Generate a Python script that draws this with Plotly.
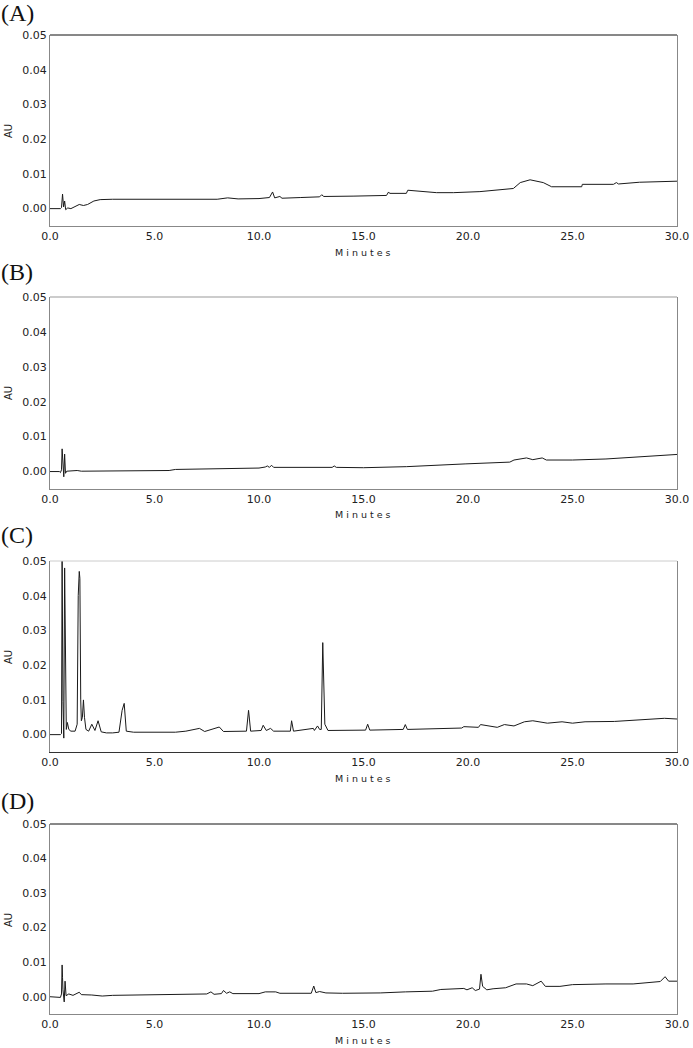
import plotly.graph_objects as go

# ---- data (minutes, AU) ----
t_A = [0, 0.5, 0.55, 0.6, 0.65, 0.7, 0.75, 0.85, 1.0, 1.3, 1.4, 1.6, 1.8, 2.1, 2.4, 3.0, 5.0, 8.0, 8.5, 9.0,
       10.0, 10.5, 10.65, 10.75, 11.0, 11.1, 12.0, 12.9, 13.0, 13.1, 14.5, 16.1, 16.2, 16.25, 17.05, 17.12,
       18.5, 19.3, 20.57, 22.17, 22.5, 22.97, 23.6, 24.0, 25.44, 25.47, 26.96, 27.1, 27.2, 28.2, 30.0]
au_A = [0, 0, 0.0003, 0.0042, 0.0005, 0.0022, -0.0003, 0.0002, 0.0, 0.0008, 0.0012, 0.0009, 0.0012, 0.0022,
        0.0026, 0.0027, 0.0027, 0.0027, 0.0031, 0.0028, 0.0029, 0.0032, 0.0048, 0.0031, 0.0035, 0.003, 0.0032,
        0.0034, 0.004, 0.0035, 0.0036, 0.0038, 0.0048, 0.0044, 0.0044, 0.0053, 0.0046, 0.0046, 0.0049, 0.0058,
        0.0075, 0.0083, 0.0075, 0.0063, 0.0063, 0.0070, 0.0070, 0.0075, 0.0071, 0.0076, 0.0079]

t_B = [0, 0.45, 0.5, 0.55, 0.58, 0.62, 0.66, 0.7, 0.74, 0.8, 1.3, 1.5, 3.5, 5.7, 6.0, 7.0, 8.0, 10.0, 10.3,
       10.4, 10.5, 10.6, 10.7, 12.0, 13.5, 13.6, 13.7, 15.0, 17.05, 19.9, 22.0, 22.2, 22.8, 23.1, 23.55, 23.75,
       25.0, 26.6, 28.5, 30.0]
au_B = [0, 0, -0.0003, 0.0005, 0.0065, 0.002, -0.0015, 0.005, -0.0005, 0.0001, 0.0003, 0.0001, 0.0001,
        0.0003, 0.0006, 0.0007, 0.0009, 0.001, 0.0013, 0.0016, 0.0012, 0.0018, 0.0012, 0.0012, 0.0012, 0.0016,
        0.0012, 0.0011, 0.0014, 0.0022, 0.0027, 0.0033, 0.0039, 0.0034, 0.0039, 0.0033, 0.0033, 0.0036,
        0.0043, 0.0049]

t_C = [0, 0.5, 0.55, 0.58, 0.62, 0.66, 0.7, 0.74, 0.78, 0.83, 0.9, 1.0, 1.2, 1.3, 1.35, 1.4, 1.43, 1.47,
       1.5, 1.55, 1.6, 1.65, 1.72, 1.85, 2.0, 2.15, 2.3, 2.45, 2.7, 3.0, 3.3, 3.45, 3.55, 3.65, 4.0, 6.0, 6.5,
       7.15, 7.4, 8.1, 8.3, 9.4, 9.5, 9.6, 10.1, 10.2, 10.35, 10.55, 10.7, 11.5, 11.56, 11.65, 12.6, 12.65,
       12.8, 12.9, 12.98, 13.05, 13.15, 13.3, 14.0, 15.1, 15.2, 15.3, 16.9, 17.0, 17.1, 19.7, 19.8, 20.5, 20.6,
       21.4, 21.74, 22.2, 22.7, 23.1, 23.8, 24.5, 25.0, 25.6, 27.0, 28.2, 29.4, 30.0]
au_C = [0, 0, 0.0003, 0.05, 0.0095, -0.001, 0.048, 0.009, 0.0015, 0.0035, 0.0015, 0.001, 0.001, 0.003,
        0.04, 0.047, 0.045, 0.01, 0.004, 0.005, 0.01, 0.005, 0.0015, 0.001, 0.003, 0.0012, 0.004, 0.0008,
        0.0005, 0.0005, 0.0007, 0.007, 0.009, 0.001, 0.0007, 0.0007, 0.001, 0.0018, 0.0009, 0.0022, 0.0009,
        0.001, 0.007, 0.001, 0.0012, 0.0027, 0.0012, 0.0018, 0.001, 0.001, 0.004, 0.001, 0.0018, 0.0012,
        0.0025, 0.0015, 0.0015, 0.0265, 0.003, 0.0012, 0.0012, 0.0013, 0.003, 0.0013, 0.0015, 0.0029, 0.0015,
        0.0019, 0.0023, 0.0021, 0.0029, 0.0021, 0.0029, 0.0025, 0.0037, 0.004, 0.0033, 0.0037, 0.0033, 0.0037,
        0.0038, 0.0042, 0.0047, 0.0045]

t_D = [0, 0.45, 0.5, 0.55, 0.58, 0.6, 0.62, 0.68, 0.72, 0.77, 0.9, 1.1, 1.4, 1.5, 2.0, 2.5, 3.0, 5.0, 6.5,
       7.5, 7.7, 7.85, 8.2, 8.3, 8.45, 8.6, 8.75, 10.0, 10.3, 10.8, 11.0, 12.5, 12.62, 12.72, 12.9, 13.2, 14.0,
       15.8, 17.0, 18.3, 18.7, 19.2, 19.8, 19.95, 20.2, 20.35, 20.55, 20.62, 20.7, 20.9, 21.2, 21.8, 22.3,
       22.8, 23.1, 23.5, 23.7, 24.4, 25.0, 26.6, 27.9, 29.2, 29.43, 29.6, 30.0]
au_D = [0, 0, -0.0002, 0.0008, 0.0092, 0.0055, 0.002, -0.0015, 0.0045, 0.0003, 0.0008, 0.0004, 0.0013,
        0.0006, 0.0005, 0.0002, 0.0004, 0.0005, 0.0006, 0.0008, 0.0014, 0.0007, 0.0009, 0.0018, 0.001, 0.0014,
        0.0009, 0.0009, 0.0014, 0.0014, 0.001, 0.001, 0.0031, 0.0012, 0.0015, 0.0011, 0.001, 0.0011, 0.0014,
        0.0016, 0.0021, 0.0022, 0.0024, 0.0020, 0.0026, 0.0018, 0.0022, 0.0065, 0.0030, 0.002, 0.0023, 0.0026,
        0.0037, 0.0037, 0.0032, 0.0045, 0.003, 0.003, 0.0035, 0.0037, 0.0037, 0.0044, 0.0058, 0.0045, 0.0045]

panel_labels = ["(A)", "(B)", "(C)", "(D)"]
x_ticks = [0, 5, 10, 15, 20, 25, 30]
y_ticks = [0.0, 0.01, 0.02, 0.03, 0.04, 0.05]

series = [(t_A, au_A), (t_B, au_B), (t_C, au_C), (t_D, au_D)]

# ---- layout geometry (pixels) ----
W, H = 693, 1048
x0, x1 = 50, 677
tops = [35, 297, 561, 824]
bottoms = [226, 489, 752, 1014]
label_y = [13, 272, 535, 801]
top_colors = ["#111111", "#999999", "#cccccc", "#111111"]
bottom_colors = ["#888888", "#888888", "#333333", "#888888"]

tick_font = dict(family="DejaVu Sans", size=11, color="#222222")

fig = go.Figure()
for i, (tx, ty) in enumerate(series):
    n = "" if i == 0 else str(i + 1)
    fig.add_trace(go.Scatter(x=tx, y=ty, mode="lines", line=dict(color="#1a1a1a", width=1),
                             xaxis="x" + n, yaxis="y" + n, showlegend=False))
    dom_y = [1 - bottoms[i] / H, 1 - tops[i] / H]
    fig.layout["xaxis" + n] = dict(domain=[x0 / W, x1 / W], range=[0, 30], tickvals=x_ticks,
                                   tickformat=".1f", showgrid=False, zeroline=False, showline=True,
                                   linecolor=bottom_colors[i], linewidth=1, mirror=False, ticks="",
                                   anchor="y" + n, tickfont=tick_font, automargin=False)
    fig.layout["yaxis" + n] = dict(domain=dom_y, range=[-0.005, 0.05], tickvals=y_ticks,
                                   tickformat=".2f", showgrid=False, zeroline=False, showline=True,
                                   linecolor="#888888", linewidth=1, mirror=True, ticks="",
                                   anchor="x" + n, tickfont=tick_font, automargin=False)
    # top frame line
    fig.add_shape(type="line", xref="paper", yref="paper", x0=x0 / W, x1=x1 / W,
                  y0=dom_y[1], y1=dom_y[1], line=dict(color=top_colors[i], width=1))
    # panel label
    fig.add_annotation(text=panel_labels[i], xref="paper", yref="paper", x=0, y=1 - label_y[i] / H,
                       xanchor="left", yanchor="middle", showarrow=False, borderpad=0,
                       font=dict(family="Liberation Serif", size=24, color="#111111"))
    # y axis title
    fig.add_annotation(text="AU", xref="paper", yref="paper", x=8 / W,
                       y=1 - (tops[i] + 96) / H, textangle=-90, xanchor="center", yanchor="middle",
                       showarrow=False, font=dict(family="DejaVu Sans", size=10, color="#222222"))
    # x axis title
    fig.add_annotation(text="M i n u t e s", xref="paper", yref="paper", x=363 / W,
                       y=1 - (bottoms[i] + 26) / H, xanchor="center", yanchor="middle",
                       showarrow=False, font=dict(family="DejaVu Sans", size=9.5, color="#222222"))

fig.update_layout(width=W, height=H, margin=dict(l=0, r=0, t=0, b=0),
                  paper_bgcolor="white", plot_bgcolor="white", template="none")
fig.write_html("out.html")
